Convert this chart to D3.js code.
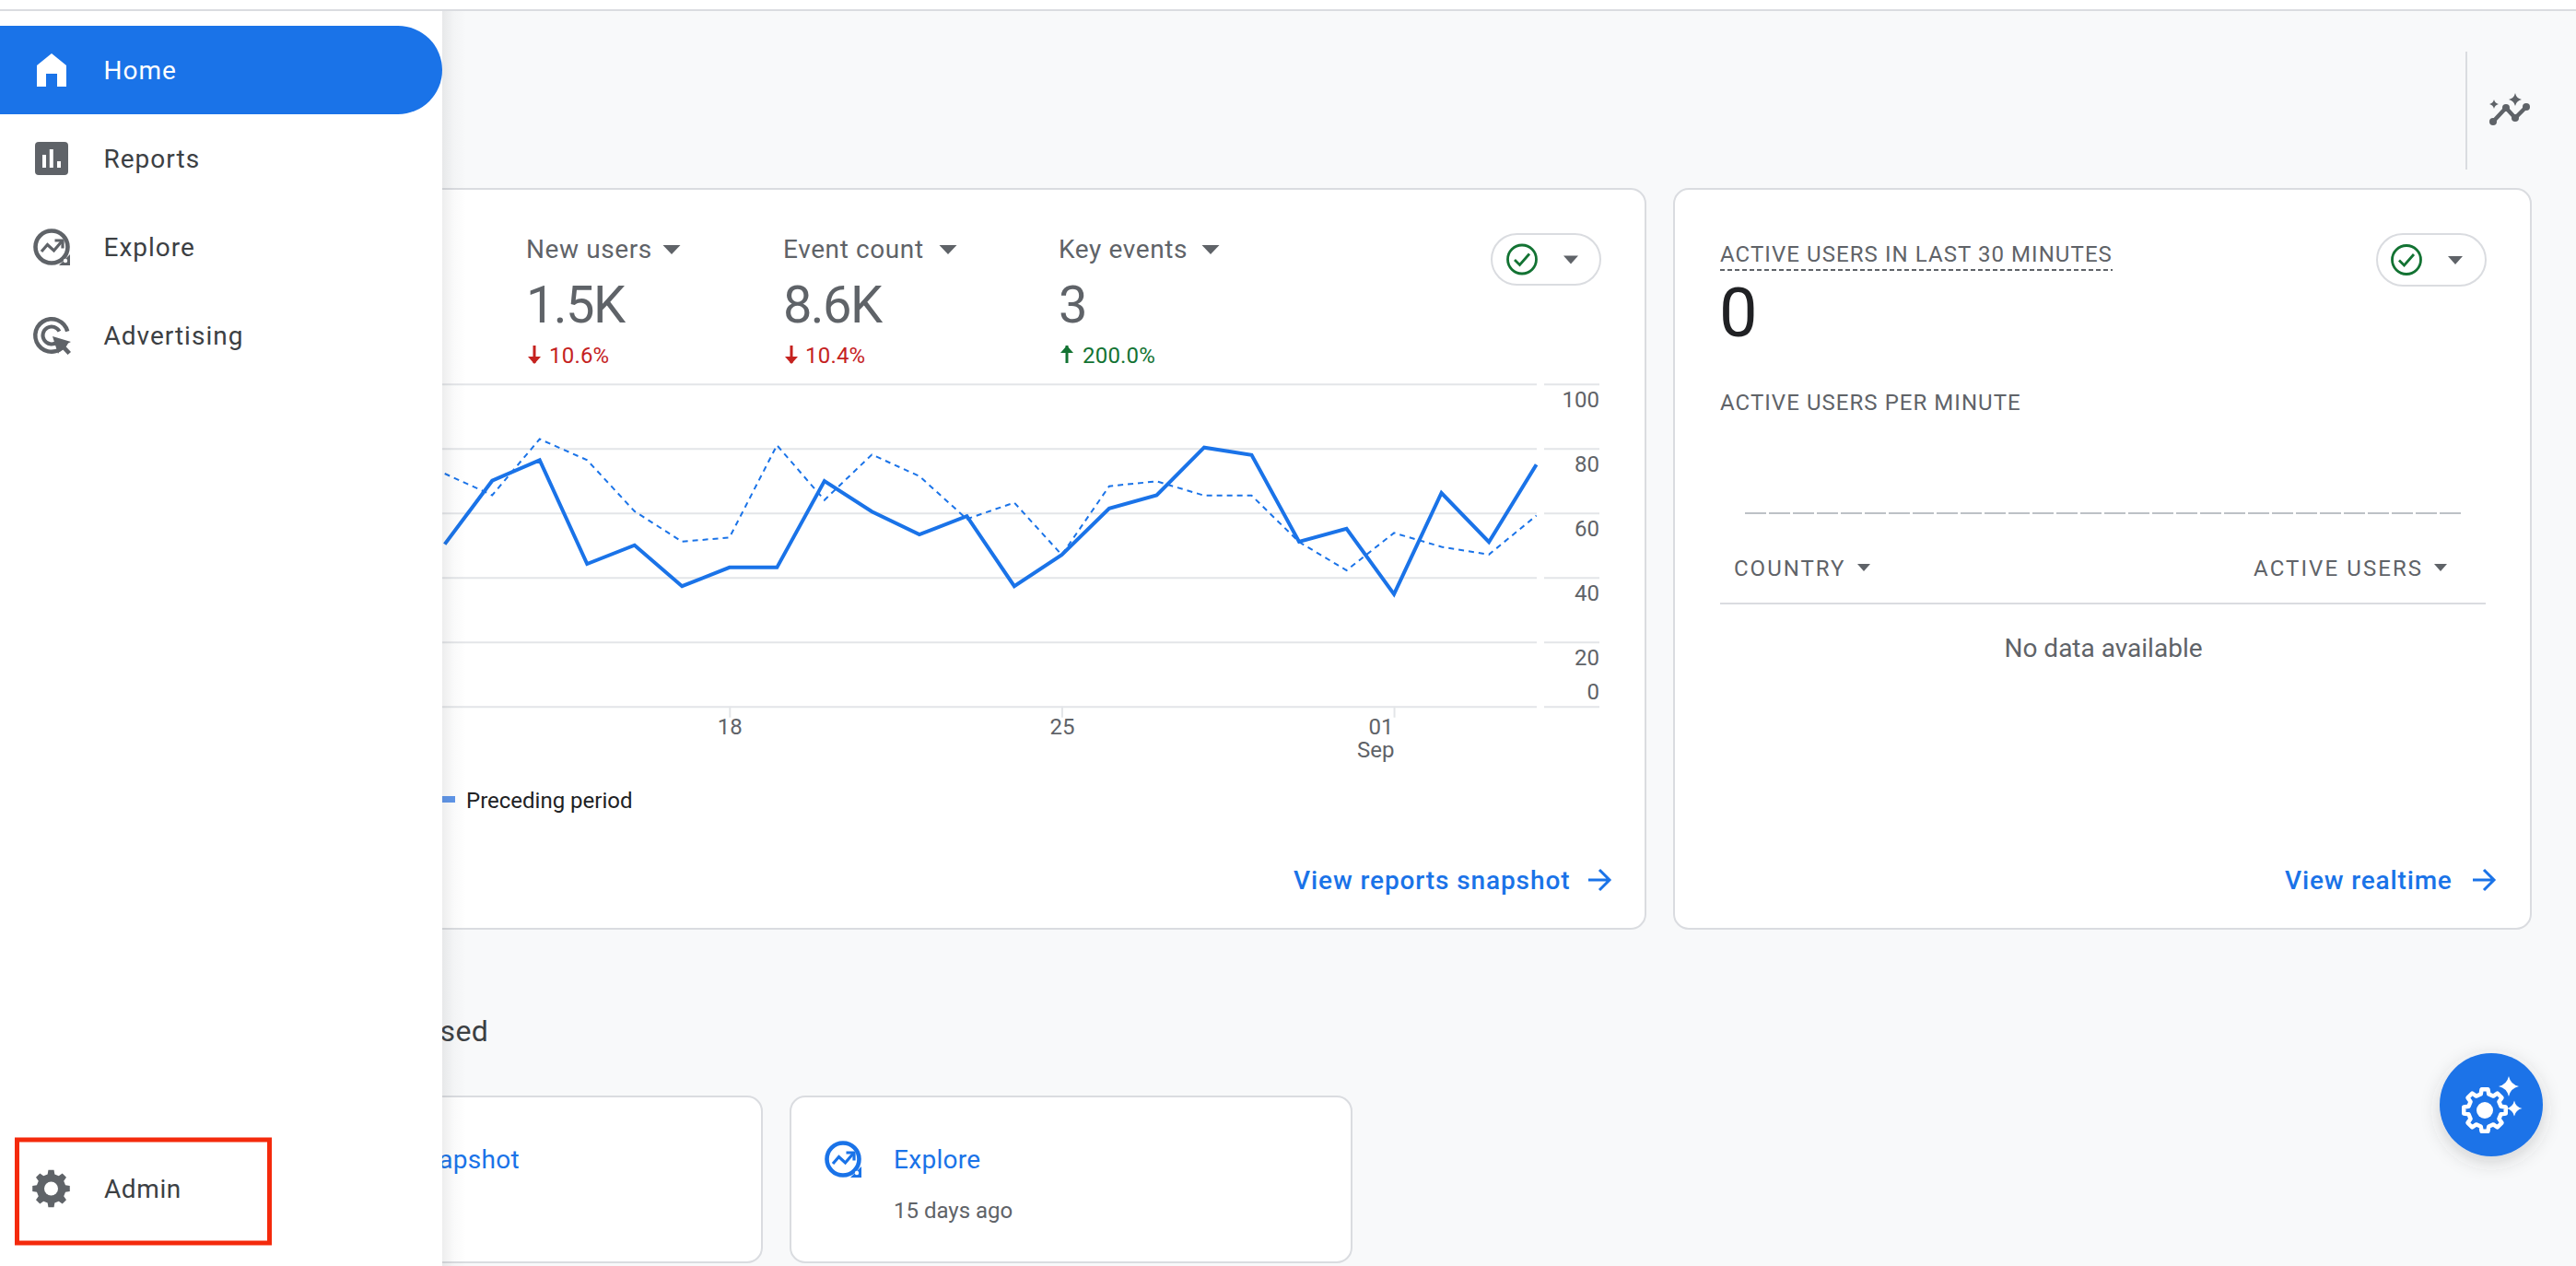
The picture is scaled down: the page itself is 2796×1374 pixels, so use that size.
<!DOCTYPE html>
<html><head><meta charset="utf-8">
<script src="https://d3js.org/d3.v7.min.js"></script>
<style>html,body{margin:0;padding:0;background:#f8f9fa;overflow:hidden}svg{display:block}text{font-family:Roboto,sans-serif}</style>
</head><body><svg id="c" width="2796" height="1374" xmlns="http://www.w3.org/2000/svg"></svg>
<script>
// ---- chart data ----
const dates = ["2024-08-12","2024-08-13","2024-08-14","2024-08-15","2024-08-16","2024-08-17","2024-08-18","2024-08-19","2024-08-20","2024-08-21","2024-08-22","2024-08-23","2024-08-24","2024-08-25","2024-08-26","2024-08-27","2024-08-28","2024-08-29","2024-08-30","2024-08-31","2024-09-01","2024-09-02","2024-09-03","2024-09-04"];
const currentPeriod = [50.3,70,76.4,44.2,50,37.3,43.1,43.1,69.9,60.4,53.3,59,37.3,47,61.4,65.5,80.3,78,51.1,55.1,34.8,66.2,51,75];
const precedingPeriod = [72.2,65.5,82.9,76.4,60.5,51.1,52.4,81,64,78.1,71.4,58.1,63.2,47,68.3,69.8,65.4,65.4,51,42.2,53.8,49.5,47.1,59.2];
const yTicks = [0,20,40,60,80,100];
const xTickDates = ["2024-08-18","2024-08-25","2024-09-01"];
const xTickLabels = [["18"],["25"],["01","Sep"]];
const metricNames = ["New users","Event count","Key events"];
const metricValues = ["1.5K","8.6K","3"];
const metricDeltas = ["10.6%","10.4%","200.0%"];
const metricDirections = ["down","down","up"];
const navItems = ["Home","Reports","Explore","Advertising"];

const BLUE="#1a73e8", GREY="#5f6368", DARK="#3c4043", LINE="#dadce0", RED="#c5221f", GREEN="#137333";
const svg=d3.select("#c");
const defs=svg.append("defs");
const g=defs.append("linearGradient").attr("id","sideShadow");
g.append("stop").attr("offset",0).attr("stop-color","#3c4043").attr("stop-opacity",.09);
g.append("stop").attr("offset",.5).attr("stop-color","#3c4043").attr("stop-opacity",.025);
g.append("stop").attr("offset",1).attr("stop-color","#3c4043").attr("stop-opacity",0);
const f=defs.append("filter").attr("id","fabShadow").attr("x","-40%").attr("y","-40%").attr("width","180%").attr("height","180%");
f.append("feDropShadow").attr("dx",0).attr("dy",6).attr("stdDeviation",10).attr("flood-color","#3c4043").attr("flood-opacity",.22);

function txt(p,x,y,s,o={}){
  return p.append("text").attr("x",x).attr("y",y).attr("dy",o.dy??"0.355em").text(s)
   .attr("font-size",o.size||24).attr("fill",o.fill||GREY).attr("font-weight",o.weight||400)
   .attr("letter-spacing",o.ls||0).attr("text-anchor",o.anchor||"start");
}
function tri(p,cx,top,w,h,c=GREY){p.append("path").attr("d",`M${cx-w/2} ${top}H${cx+w/2}L${cx} ${top+h}Z`).attr("fill",c);}
function sparkle(p,cx,cy,r,c){p.append("path").attr("fill",c).attr("d",`M${cx} ${cy-r}Q${cx+r*.18} ${cy-r*.18} ${cx+r} ${cy}Q${cx+r*.18} ${cy+r*.18} ${cx} ${cy+r}Q${cx-r*.18} ${cy+r*.18} ${cx-r} ${cy}Q${cx-r*.18} ${cy-r*.18} ${cx} ${cy-r}Z`);}
function gearPath(cx,cy,ro,ri,n){
  let pts=[];
  for(let i=0;i<n;i++){
    const a=i/n*2*Math.PI-Math.PI/2, t=Math.PI/n;
    [[ri,a-t*.62],[ro,a-t*.38],[ro,a+t*.38],[ri,a+t*.62]].forEach(([r,b])=>pts.push([cx+r*Math.cos(b),cy+r*Math.sin(b)]));
  }
  return "M"+pts.map(p=>p.join(" ")).join("L")+"Z";
}
function exploreIcon(p,cx,cy,c,hole){
  p.append("circle").attr("cx",cx).attr("cy",cy).attr("r",17.5).attr("fill","none").attr("stroke",c).attr("stroke-width",4.6);
  p.append("path").attr("d",`M${cx+8} ${cy+20}H${cx+20}V${cy+8}Z`).attr("fill",c);
  p.append("circle").attr("cx",cx+15).attr("cy",cy+15).attr("r",2.2).attr("fill",hole);
  p.append("path").attr("d",`M${cx-11} ${cy+5}L${cx-4.5} ${cy-2.5}L${cx+2.5} ${cy+4}L${cx+11} ${cy-6}`).attr("fill","none").attr("stroke",c).attr("stroke-width",3.2);
  p.append("path").attr("d",`M${cx+3.5} ${cy-7}H${cx+12}V${cy+1.5}`).attr("fill","none").attr("stroke",c).attr("stroke-width",3.2);
}
function checkPill(p,x,y,w,h,cx){
  p.append("rect").attr("x",x).attr("y",y).attr("width",w).attr("height",h).attr("rx",h/2).attr("fill","#fff").attr("stroke",LINE).attr("stroke-width",2);
  const cy=y+h/2;
  p.append("circle").attr("cx",cx).attr("cy",cy).attr("r",15.5).attr("fill","none").attr("stroke",GREEN).attr("stroke-width",2.8);
  p.append("path").attr("d",`M${cx-8} ${cy+.5}L${cx-2.5} ${cy+6}L${cx+8} ${cy-6}`).attr("fill","none").attr("stroke",GREEN).attr("stroke-width",2.8);
  tri(p,cx+53,cy-4,16,9);
}

// ---- page frame ----
svg.append("rect").attr("width",2796).attr("height",1374).attr("fill","#f8f9fa");
svg.append("rect").attr("width",2796).attr("height",10).attr("fill","#fff");
svg.append("rect").attr("y",10).attr("width",2796).attr("height",2).attr("fill",LINE);
svg.append("rect").attr("x",2676).attr("y",56).attr("width",2).attr("height",128).attr("fill",LINE);
// insights icon
const ins=svg.append("g");
ins.append("path").attr("d","M2706 132L2720 117L2730 128L2742 116").attr("fill","none").attr("stroke",GREY).attr("stroke-width",4.4);
[[2706,132],[2720,117],[2730,128],[2742,116]].forEach(d=>ins.append("circle").attr("cx",d[0]).attr("cy",d[1]).attr("r",4).attr("fill",GREY));
sparkle(ins,2730,108,7,GREY); sparkle(ins,2707,113,5,GREY);

// ---- cards ----
const card=(x,y,w,h)=>svg.append("rect").attr("x",x).attr("y",y).attr("width",w).attr("height",h).attr("rx",16).attr("fill","#fff").attr("stroke",LINE).attr("stroke-width",2);
card(420,205,1366,803);
card(1817,205,930,803);
card(300,1190,527,180);
card(858,1190,609,180);

// ---- metrics ----
const metricX=[571,850,1149], metricTri=[729,1029,1314], deltaX=[596,874,1175];
metricNames.forEach((m,i)=>{
  txt(svg,metricX[i],270,m,{size:28,ls:.6});
  tri(svg,metricTri[i],266,19,10);
  txt(svg,metricX[i],350,metricValues[i],{size:56,dy:0,ls:-1.6,weight:400});
  const c=metricDirections[i]==="down"?RED:GREEN, ax=metricX[i]+9;
  const up=metricDirections[i]==="up";
  svg.append("rect").attr("x",ax-1.5).attr("y",375).attr("width",3).attr("height",19).attr("fill",c);
  svg.append("path").attr("fill",c).attr("d",up?`M${ax-7} 383L${ax} 375L${ax+7} 383Z`:`M${ax-7} 387L${ax} 395L${ax+7} 387Z`);
  txt(svg,deltaX[i],385,metricDeltas[i],{size:24,fill:c,ls:.2});
});
checkPill(svg,1619,254,118,55,1652);

// ---- line chart ----
const parse=d3.utcParse("%Y-%m-%d");
const x=d3.scaleUtc().domain([parse(dates[0]),parse(dates[dates.length-1])]).range([482.7,1667.6]);
const y=d3.scaleLinear().domain([0,100]).range([766.7,416.7]);
const grid=svg.append("g").attr("transform","translate(1668,0)")
  .call(d3.axisLeft(y).tickValues(yTicks).tickSize(1188).tickFormat(""));
grid.select(".domain").remove();
grid.selectAll("line").attr("stroke","#e3e5e8").attr("stroke-width",2);
const yAxis=svg.append("g").attr("transform","translate(1676,0)")
  .call(d3.axisRight(y).tickValues(yTicks).tickSize(60).tickFormat(d=>d));
yAxis.select(".domain").remove();
yAxis.selectAll("line").attr("stroke","#e3e5e8").attr("stroke-width",2);
yAxis.selectAll("text").attr("x",60).attr("text-anchor","end").attr("dy",d=>d===0?"-0.35em":"1.02em")
  .attr("font-size",24).attr("fill",GREY).attr("font-family","Roboto");
const xAxis=svg.append("g").attr("transform","translate(0,766.7)")
  .call(d3.axisBottom(x).tickValues(xTickDates.map(parse)).tickSize(12).tickFormat(""));
xAxis.select(".domain").remove();
xAxis.selectAll("line").attr("stroke","#e3e5e8").attr("stroke-width",2);
xAxis.selectAll("text").remove();
xAxis.selectAll(".tick").each(function(d,i){
  const t=d3.select(this), ls=xTickLabels[i];
  ls.forEach((s,j)=>{
    t.append("text").attr("x",ls.length>1?(j?0:-1):0).attr("y",22+j*25).attr("dy","0.355em")
      .attr("text-anchor",ls.length>1?"end":"middle").attr("font-size",24).attr("fill",GREY).attr("font-family","Roboto").text(s);
  });
});
const lineGen=d3.line().x((d,i)=>x(parse(dates[i]))).y(d=>y(d));
svg.append("path").datum(precedingPeriod).attr("d",lineGen).attr("fill","none").attr("stroke",BLUE).attr("stroke-width",2).attr("stroke-dasharray","6 5");
svg.append("path").datum(currentPeriod).attr("d",lineGen).attr("fill","none").attr("stroke",BLUE).attr("stroke-width",4).attr("stroke-linejoin","miter");

// legend
svg.append("rect").attr("x",480).attr("y",864).attr("width",14).attr("height",7).attr("fill","#5f96ea");
txt(svg,506,868,"Preceding period",{size:24,fill:"#202124"});

// links
txt(svg,1404,955,"View reports snapshot",{size:28,fill:BLUE,weight:500,ls:.9});
const arrow=(ax,ay)=>svg.append("path").attr("d",`M${ax} ${ay}H${ax+22}M${ax+12} ${ay-11}L${ax+23} ${ay}L${ax+12} ${ay+11}`).attr("fill","none").attr("stroke",BLUE).attr("stroke-width",3);
arrow(1724,955);
txt(svg,2480,955,"View realtime",{size:28,fill:BLUE,weight:500,ls:.85});
arrow(2684,955);

// ---- realtime card ----
txt(svg,1867,275,"ACTIVE USERS IN LAST 30 MINUTES",{size:24,ls:1.07,weight:400});
svg.append("line").attr("x1",1867).attr("x2",2293).attr("y1",293).attr("y2",293).attr("stroke",GREY).attr("stroke-width",2).attr("stroke-dasharray","5 3");
txt(svg,1866,365,"0",{size:74,dy:0,fill:"#202124",weight:400});
checkPill(svg,2580,254,118,56,2612);
txt(svg,1867,436,"ACTIVE USERS PER MINUTE",{size:24,ls:1.05});
svg.append("line").attr("x1",1894).attr("x2",2672).attr("y1",557).attr("y2",557).attr("stroke","#bdc1c6").attr("stroke-width",2).attr("stroke-dasharray","23 3");
txt(svg,1882,616,"COUNTRY",{size:24,ls:2});
tri(svg,2023,612,14,8);
txt(svg,2446,616,"ACTIVE USERS",{size:24,ls:2.1});
tri(svg,2649,612,14,8);
svg.append("rect").attr("x",1867).attr("y",654).attr("width",831).attr("height",2).attr("fill",LINE);
txt(svg,2283,703,"No data available",{size:28,anchor:"middle"});

// ---- bottom section ----
txt(svg,530,1119,"sed",{size:32,anchor:"end",fill:DARK,ls:.3});
txt(svg,564,1258,"apshot",{size:28,anchor:"end",fill:BLUE,ls:.3});
const ex2=svg.append("g"); exploreIcon(ex2,915,1258,BLUE,"#fff");
txt(svg,970,1258,"Explore",{size:28,fill:BLUE,ls:.3});
txt(svg,970,1313,"15 days ago",{size:24});

// ---- FAB ----
svg.append("circle").attr("cx",2704).attr("cy",1199).attr("r",56).attr("fill",BLUE).attr("filter","url(#fabShadow)");
svg.append("path").attr("d",gearPath(2697,1205,23,18,8)).attr("fill","none").attr("stroke","#fff").attr("stroke-width",4.5).attr("stroke-linejoin","round");
svg.append("circle").attr("cx",2697).attr("cy",1205).attr("r",9).attr("fill","#fff");
sparkle(svg,2723,1179,11,"#fff"); sparkle(svg,2729,1203,8.5,"#fff");

// ---- sidebar (on top) ----
svg.append("rect").attr("x",480).attr("y",12).attr("width",26).attr("height",1362).attr("fill","url(#sideShadow)");
svg.append("rect").attr("x",0).attr("y",12).attr("width",480).attr("height",1362).attr("fill","#fff");
svg.append("path").attr("d","M0 28H432A48 48 0 0 1 432 124H0Z").attr("fill",BLUE);
const navY=[76,172,268,364];
navItems.forEach((n,i)=>txt(svg,112.5,navY[i],n,{size:28,fill:i?DARK:"#fff",ls:1}));
svg.append("path").attr("fill","#fff").attr("d","M56 58L72 71V94H62V80H50V94H40V71Z");
svg.append("rect").attr("x",38).attr("y",154).attr("width",36).attr("height",36).attr("rx",4).attr("fill",GREY);
[[46,168,14],[53.8,162,20],[62,175,7]].forEach(b=>svg.append("rect").attr("x",b[0]).attr("y",b[1]).attr("width",4).attr("height",b[2]).attr("fill","#fff"));
exploreIcon(svg,56,268,GREY,"#fff");
// advertising icon
const arc=d3.arc();
const adv=svg.append("g").attr("transform","translate(56,364)");
adv.append("path").attr("fill",GREY).attr("d",arc({innerRadius:15.5,outerRadius:20,startAngle:Math.PI*.62,endAngle:Math.PI*2.42}));
adv.append("path").attr("fill",GREY).attr("d",arc({innerRadius:7.5,outerRadius:11.5,startAngle:Math.PI*.8,endAngle:Math.PI*2.35}));
adv.append("path").attr("fill",GREY).attr("d","M1 1L21 7L14 10.5L21 18L17.5 21L10.5 13.5L7 20Z");
// admin gear
svg.append("path").attr("d",gearPath(55.5,1290,20.5,16,8)).attr("fill",GREY);
svg.append("circle").attr("cx",55.5).attr("cy",1290).attr("r",7.5).attr("fill","#fff");
txt(svg,113,1290,"Admin",{size:28,fill:DARK,ls:.6});
svg.append("rect").attr("x",18.5).attr("y",1237).attr("width",274).attr("height",112).attr("fill","none").attr("stroke","#f42a0c").attr("stroke-width",5);
</script></body></html>
